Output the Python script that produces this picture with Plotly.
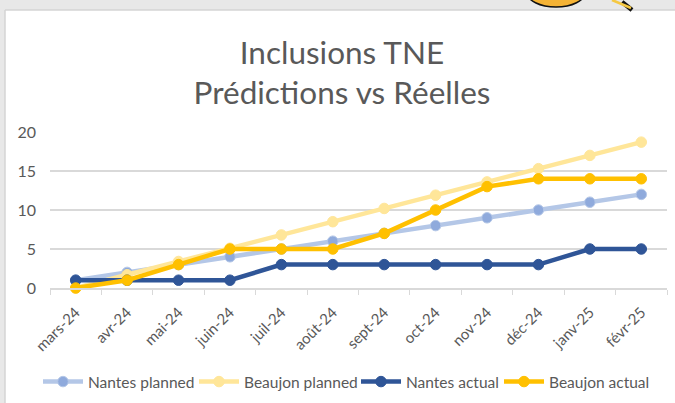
import plotly.graph_objects as go

months = ["mars-24", "avr-24", "mai-24", "juin-24", "juil-24", "août-24", "sept-24",
          "oct-24", "nov-24", "déc-24", "janv-25", "févr-25"]
nantes_planned = [1, 2, 3, 4, 5, 6, 7, 8, 9, 10, 11, 12]
beaujon_planned = [0, 1.7, 3.4, 5.1, 6.8, 8.5, 10.2, 11.9, 13.6, 15.3, 17, 18.7]
nantes_actual = [1, 1, 1, 1, 3, 3, 3, 3, 3, 3, 5, 5]
beaujon_actual = [0, 1, 3, 5, 5, 5, 7, 10, 13, 14, 14, 14]

FONT = "Lato"
GREY = "#595959"
L, R, T, B = 50, 8, 132, 115
PW, PH = 675 - L - R, 403 - T - B


def px(x):
    return (x - L) / PW


def py(y):
    return (403 - B - y) / PH


fig = go.Figure()
series = [
    ("Nantes planned", nantes_planned, "#b4c7e7", "#8faadc", "legend", 38),
    ("Beaujon planned", beaujon_planned, "#ffe699", "#ffe699", "legend2", 194),
    ("Nantes actual", nantes_actual, "#2f5597", "#2f5597", "legend3", 356),
    ("Beaujon actual", beaujon_actual, "#ffc000", "#ffc000", "legend4", 499),
]
legends = {}
for name, vals, lc, mc, leg, lx in series:
    fig.add_trace(go.Scatter(x=months, y=vals, name=name, mode="lines+markers", legend=leg,
                             line=dict(color=lc, width=4.5),
                             marker=dict(color=mc, size=10.5, line=dict(color=lc, width=1)),
                             cliponaxis=False))
    legends[leg] = dict(x=px(lx), xanchor="left", y=py(365), yanchor="top",
                        font=dict(size=15.5, color=GREY), itemwidth=40,
                        bgcolor="rgba(0,0,0,0)", borderwidth=0)

fig.update_layout(
    width=675, height=403, autosize=False, showlegend=True,
    margin=dict(l=L, r=R, t=T, b=B, autoexpand=False),
    paper_bgcolor="white", plot_bgcolor="white",
    font=dict(family=FONT, color=GREY, size=15),
    title=dict(text="Inclusions TNE<br>Prédictions vs Réelles", x=342 / 675, xanchor="center",
               y=1 - 63.5 / 403, yanchor="top", font=dict(family=FONT, size=31.5, color=GREY)),
    xaxis=dict(type="category", range=[-0.5, 11.5], tickangle=-45, tickson="boundaries",
               ticks="outside", ticklen=5,
               tickcolor="#d9d9d9", tickwidth=1, showline=True, linecolor="#d9d9d9", linewidth=1.5,
               showgrid=False, tickfont=dict(size=15, color=GREY), ticklabelstandoff=8,
               automargin=False),
    yaxis=dict(range=[0, 20], tickvals=[0, 5, 10, 15, 20], gridcolor="#d9d9d9", gridwidth=1.5,
               zeroline=False, ticks="", tickfont=dict(size=16, color=GREY), ticklabelstandoff=13,
               automargin=False),
    shapes=[
        dict(type="rect", xref="paper", yref="paper", x0=px(0), x1=px(675), y0=py(10), y1=py(0),
             fillcolor="#e8e8e8", line_width=0, layer="below"),
        dict(type="rect", xref="paper", yref="paper", x0=px(0), x1=px(5), y0=py(403), y1=py(0),
             fillcolor="#e8e8e8", line_width=0, layer="below"),
        dict(type="line", xref="paper", yref="paper", x0=px(5), x1=px(675), y0=py(10), y1=py(10),
             line=dict(color="#d4d4d4", width=1.5), layer="below"),
        dict(type="line", xref="paper", yref="paper", x0=px(5), x1=px(5), y0=py(10), y1=py(403),
             line=dict(color="#d4d4d4", width=1.5), layer="below"),
        dict(type="circle", xref="paper", yref="paper", x0=px(527), x1=px(585), y0=py(7), y1=py(-22),
             fillcolor="#f5b335", line=dict(color="#111111", width=1.5), layer="below"),
        dict(type="line", xref="paper", yref="paper", x0=px(622), x1=px(632), y0=py(2), y1=py(10),
             line=dict(color="#111111", width=4.5), layer="below"),
        dict(type="line", xref="paper", yref="paper", x0=px(612), x1=px(631), y0=py(0), y1=py(8),
             line=dict(color="#f5c842", width=2.5), layer="below"),
    ],
    **legends,
)
fig.write_html("out.html", config={"displayModeBar": False},
               post_script="document.body.style.margin='0';document.body.style.overflow='hidden';")
